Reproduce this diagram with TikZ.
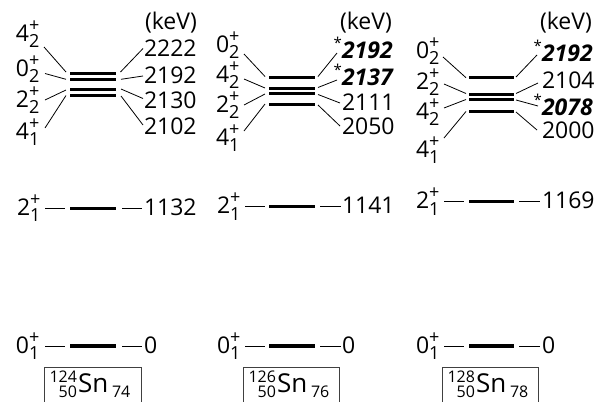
\documentclass[tikz,border=0pt]{standalone}
\usepackage{fontspec}
\setmainfont{Open Sans}
\newcommand\mainsz{\fontsize{23}{26}\selectfont}
\newcommand\supsz{\fontsize{18}{18}\selectfont}
\newcommand\jpi[3]{#1\rlap{\raisebox{10pt}{\supsz #3}}\raisebox{-6.5pt}{\supsz #2}}
\newcommand\starred[1]{\llap{\raisebox{10pt}{\fontsize{15}{15}\selectfont *}}\textbf{\textit{#1}}}
\tikzset{
  lvl/.style={line width=3.4pt},
  conn/.style={line width=0.8pt},
  txt/.style={anchor=base west, inner sep=0pt, outer sep=0pt, font=\mainsz},
  smalltxt/.style={inner sep=0pt, outer sep=0pt, font=\fontsize{16}{16}\selectfont},
  sntxt/.style={anchor=base west, inner sep=0pt, outer sep=0pt, font=\fontsize{26}{26}\selectfont},
  bx/.style={line width=0.8pt, draw=black!75},
}
\begin{document}
\begin{tikzpicture}[x=1pt,y=-1pt]
\useasboundingbox (0,0) rectangle (603,402);

% ================= Panel 1 : 124Sn =================
\coordinate (a1L) at (70,73.5);  \coordinate (a1R) at (116,73.5);
\coordinate (a2L) at (70,79.3);  \coordinate (a2R) at (116,79.3);
\coordinate (a3L) at (70,89.6);  \coordinate (a3R) at (116,89.6);
\coordinate (a4L) at (70,95.3);  \coordinate (a4R) at (116,95.3);
\coordinate (a5L) at (70,208.3); \coordinate (a5R) at (116,208.3);
\coordinate (a6L) at (70,346);   \coordinate (a6R) at (116,346);
\foreach \k in {1,...,6} \draw[lvl] (a\k L) -- (a\k R);
\node[txt] (aj1) at (16,41)  {\jpi{4}{2}{+}};
\node[txt] (aj2) at (16,76)  {\jpi{0}{2}{+}};
\node[txt] (aj3) at (16,107) {\jpi{2}{2}{+}};
\node[txt] (aj4) at (16,139) {\jpi{4}{1}{+}};
\coordinate (as1) at (44,47);   \coordinate (ae1) at (66,72);
\coordinate (as2) at (45,73.5); \coordinate (ae2) at (66,79.3);
\coordinate (as3) at (45,100);  \coordinate (ae3) at (66,90);
\coordinate (as4) at (45,128);  \coordinate (ae4) at (66,95.5);
\node[txt] (akev) at (145,29) {(keV)};
\node[txt] (ae2222) at (144,56) {2222};
\node[txt] (ae2192) at (144,83) {2192};
\node[txt] (ae2130) at (144,108) {2130};
\node[txt] (ae2102) at (144,134) {2102};
\coordinate (ar1) at (120.5,72); \coordinate (at1) at (143,48.5);
\coordinate (ar2) at (121,79.3); \coordinate (at2) at (143,76);
\coordinate (ar3) at (121,89);   \coordinate (at3) at (143,98.5);
\coordinate (ar4) at (121,96);   \coordinate (at4) at (143,125);
\foreach \k in {1,...,4} {\draw[conn] (as\k) -- (ae\k); \draw[conn] (ar\k) -- (at\k);}
\node[txt] (aj5) at (17,215) {\jpi{2}{1}{+}};
\coordinate (ad1) at (45,208.3); \coordinate (ad2) at (65,208.3);
\coordinate (ad3) at (122,208.3); \coordinate (ad4) at (142,208.3);
\draw[conn] (ad1) -- (ad2); \draw[conn] (ad3) -- (ad4);
\node[txt] (ae1132) at (144,215) {1132};
\node[txt] (aj6) at (16,353) {\jpi{0}{1}{+}};
\coordinate (ag1) at (45,346); \coordinate (ag2) at (65,346);
\coordinate (ag3) at (122,346); \coordinate (ag4) at (142,346);
\draw[conn] (ag1) -- (ag2); \draw[conn] (ag3) -- (ag4);
\node[txt] (ae0) at (144,353) {0};
\coordinate (abx1) at (44,402); \coordinate (abx2) at (44,367);
\coordinate (abx3) at (141,367); \coordinate (abx4) at (141,402);
\draw[bx] (abx1) -- (abx2) -- (abx3) -- (abx4);
\node[smalltxt, anchor=base east] (aA) at (77,382) {124};
\node[smalltxt, anchor=base east] (aZ) at (77,397.5) {50};
\node[sntxt] (aSn) at (78,392) {Sn};
\node[smalltxt, anchor=base west] (aN) at (112,397.5) {74};

% ================= Panel 2 : 126Sn =================
\coordinate (b1L) at (269,77.5);  \coordinate (b1R) at (315,77.5);
\coordinate (b2L) at (269,88.5);  \coordinate (b2R) at (315,88.5);
\coordinate (b3L) at (269,93.5);  \coordinate (b3R) at (315,93.5);
\coordinate (b4L) at (269,104.5); \coordinate (b4R) at (315,104.5);
\coordinate (b5L) at (269,206.7); \coordinate (b5R) at (315,206.7);
\coordinate (b6L) at (269,346);   \coordinate (b6R) at (315,346);
\foreach \k in {1,...,6} \draw[lvl] (b\k L) -- (b\k R);
\node[txt] (bj1) at (216,52)  {\jpi{0}{2}{+}};
\node[txt] (bj2) at (216,82)  {\jpi{4}{2}{+}};
\node[txt] (bj3) at (216,112) {\jpi{2}{2}{+}};
\node[txt] (bj4) at (216,145) {\jpi{4}{1}{+}};
\coordinate (bs1) at (244,54);  \coordinate (be1) at (265,76.5);
\coordinate (bs2) at (244,79);  \coordinate (be2) at (265,88);
\coordinate (bs3) at (244,105); \coordinate (be3) at (265,94);
\coordinate (bs4) at (244,131); \coordinate (be4) at (265,104);
\node[txt] (bkev) at (340,29) {(keV)};
\node[txt] (be2192) at (342,58) {\starred{2192}};
\node[txt] (be2137) at (342,85) {\starred{2137}};
\node[txt] (be2111) at (342,110) {2111};
\node[txt] (be2050) at (342,134) {2050};
\coordinate (br1) at (318,76.5); \coordinate (bt1) at (337,53);
\coordinate (br2) at (318,87.5); \coordinate (bt2) at (337,80);
\coordinate (br3) at (318,94.5); \coordinate (bt3) at (340,103);
\coordinate (br4) at (318,105);  \coordinate (bt4) at (340,126);
\foreach \k in {1,...,4} {\draw[conn] (bs\k) -- (be\k); \draw[conn] (br\k) -- (bt\k);}
\node[txt] (bj5) at (217,213.5) {\jpi{2}{1}{+}};
\coordinate (bd1) at (245,206.7); \coordinate (bd2) at (265,206.7);
\coordinate (bd3) at (320,206.7); \coordinate (bd4) at (341,206.7);
\draw[conn] (bd1) -- (bd2); \draw[conn] (bd3) -- (bd4);
\node[txt] (be1141) at (342,213.5) {1141};
\node[txt] (bj6) at (217,353) {\jpi{0}{1}{+}};
\coordinate (bg1) at (245,346); \coordinate (bg2) at (265,346);
\coordinate (bg3) at (320,346); \coordinate (bg4) at (341,346);
\draw[conn] (bg1) -- (bg2); \draw[conn] (bg3) -- (bg4);
\node[txt] (be0) at (342,353) {0};
\coordinate (bbx1) at (243,402); \coordinate (bbx2) at (243,367);
\coordinate (bbx3) at (339,367); \coordinate (bbx4) at (339,402);
\draw[bx] (bbx1) -- (bbx2) -- (bbx3) -- (bbx4);
\node[smalltxt, anchor=base east] (bA) at (276,382) {126};
\node[smalltxt, anchor=base east] (bZ) at (276,397.5) {50};
\node[sntxt] (bSn) at (277,392) {Sn};
\node[smalltxt, anchor=base west] (bN) at (311,397.5) {76};

% ================= Panel 3 : 128Sn =================
\coordinate (c1L) at (469,77.7);  \coordinate (c1R) at (514,77.7);
\coordinate (c2L) at (469,94.3);  \coordinate (c2R) at (514,94.3);
\coordinate (c3L) at (469,99.5);  \coordinate (c3R) at (514,99.5);
\coordinate (c4L) at (469,111.7); \coordinate (c4R) at (514,111.7);
\coordinate (c5L) at (469,201.7); \coordinate (c5R) at (514,201.7);
\coordinate (c6L) at (469,346);   \coordinate (c6R) at (514,346);
\foreach \k in {1,...,6} \draw[lvl] (c\k L) -- (c\k R);
\node[txt] (cj1) at (416,58)  {\jpi{0}{2}{+}};
\node[txt] (cj2) at (416,89)  {\jpi{2}{2}{+}};
\node[txt] (cj3) at (416,119) {\jpi{4}{2}{+}};
\node[txt] (cj4) at (416,157) {\jpi{4}{1}{+}};
\coordinate (cs1) at (443,57);  \coordinate (ce1) at (466,77.7);
\coordinate (cs2) at (444,84);  \coordinate (ce2) at (466,93.5);
\coordinate (cs3) at (444,108); \coordinate (ce3) at (466,99.5);
\coordinate (cs4) at (444,138); \coordinate (ce4) at (466,111.5);
\node[txt] (ckev) at (540,29) {(keV)};
\node[txt] (ce2192) at (542,61) {\starred{2192}};
\node[txt] (ce2104) at (542,88) {2104};
\node[txt] (ce2078) at (542,115) {\starred{2078}};
\node[txt] (ce2000) at (542,138) {2000};
\coordinate (cr1) at (516,77);   \coordinate (ct1) at (537,55);
\coordinate (cr2) at (516,93.5); \coordinate (ct2) at (538,83);
\coordinate (cr3) at (516,100);  \coordinate (ct3) at (538,106);
\coordinate (cr4) at (516,112);  \coordinate (ct4) at (537,130);
\foreach \k in {1,...,4} {\draw[conn] (cs\k) -- (ce\k); \draw[conn] (cr\k) -- (ct\k);}
\node[txt] (cj5) at (416,208.5) {\jpi{2}{1}{+}};
\coordinate (cd1) at (444,201.7); \coordinate (cd2) at (464,201.7);
\coordinate (cd3) at (519,201.7); \coordinate (cd4) at (540,201.7);
\draw[conn] (cd1) -- (cd2); \draw[conn] (cd3) -- (cd4);
\node[txt] (ce1169) at (542,208.5) {1169};
\node[txt] (cj6) at (416,353) {\jpi{0}{1}{+}};
\coordinate (cg1) at (444,346); \coordinate (cg2) at (464,346);
\coordinate (cg3) at (519,346); \coordinate (cg4) at (540,346);
\draw[conn] (cg1) -- (cg2); \draw[conn] (cg3) -- (cg4);
\node[txt] (ce0) at (542,353) {0};
\coordinate (cbx1) at (442,402); \coordinate (cbx2) at (442,367);
\coordinate (cbx3) at (538,367); \coordinate (cbx4) at (538,402);
\draw[bx] (cbx1) -- (cbx2) -- (cbx3) -- (cbx4);
\node[smalltxt, anchor=base east] (cA) at (475,382) {128};
\node[smalltxt, anchor=base east] (cZ) at (475,397.5) {50};
\node[sntxt] (cSn) at (476,392) {Sn};
\node[smalltxt, anchor=base west] (cN) at (510,397.5) {78};
\end{tikzpicture}
\end{document}
